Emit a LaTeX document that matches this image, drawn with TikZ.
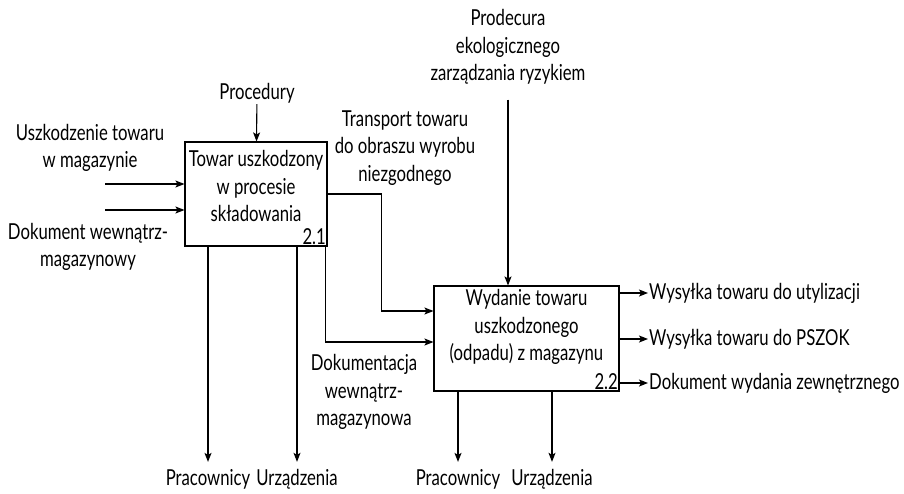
\documentclass[tikz,border=0pt]{standalone}
\usepackage{fontspec}
\setmainfont{Lato}[FakeStretch=0.76]
\usetikzlibrary{positioning,arrows.meta,calc}

\begin{document}
\begin{tikzpicture}[x=1pt, y=-1pt,
  proc/.style={rectangle, draw, line width=1.1pt},
  lbl/.style={font=\fontsize{22}{27.5}\selectfont, align=center, inner sep=1pt},
  num/.style={font=\fontsize{22}{24}\selectfont, inner sep=1.5pt},
  arr/.style={-{Stealth[length=9pt,width=7pt,inset=2pt]}, line width=1.1pt}
]
\useasboundingbox (0,0) rectangle (904,493);
% activity boxes
\node[proc, minimum width=142pt, minimum height=104pt] (b1) at (256,194) {};
\node[proc, minimum width=185pt, minimum height=105pt] (b2) at (526.5,338.5) {};
\node[lbl] (b1t) at (256,186) {Towar uszkodzony\\w procesie\\składowania};
\node[lbl] (b2t) at (526.5,327) {Wydanie towaru\\uszkodzonego\\(odpadu) z magazynu};
\node[num, anchor=south east] (n1) at (b1.south east) {2.1};
\node[num, anchor=south east] (n2) at (b2.south east) {2.2};
% inputs and controls
\node[lbl] (in1) at (90,148) {Uszkodzenie towaru\\w magazynie};
\node[lbl] (in2) at (88,247) {Dokument wewnątrz-\\magazynowy};
\coordinate (in1s) at (105,184);
\coordinate (in2s) at (105,210);
\node[lbl] (ctrl1) at (257,93) {Procedury};
\node[lbl] (ctrl2) at (508,47) {Prodecura\\ekologicznego\\zarządzania ryzykiem};
\node[lbl] (tr) at (405,148) {Transport towaru\\do obraszu wyrobu\\niezgodnego};
\node[lbl] (dok) at (364,392) {Dokumentacja\\wewnątrz-\\magazynowa};
% outputs
\node[lbl, anchor=west] (out1) at (648,293) {Wysyłka towaru do utylizacji};
\node[lbl, anchor=west] (out2) at (648,339) {Wysyłka towaru do PSZOK};
\node[lbl, anchor=west] (out3) at (648,383) {Dokument wydania zewnętrznego};
% mechanisms
\node[lbl] (m1) at (208,479) {Pracownicy};
\node[lbl] (m2) at (297,479) {Urządzenia};
\node[lbl] (m3) at (458,479) {Pracownicy};
\node[lbl] (m4) at (552,479) {Urządzenia};

\draw[arr] (in1s) -- (in1s -| b1.west);
\draw[arr] (in2s) -- (in2s -| b1.west);
\draw[arr] (ctrl1) -- (b1);
\draw[arr] ([yshift=-14pt]ctrl2.south) -- (ctrl2.south |- b2.north);
\draw[arr] (b1.east) -- ++(54,0) |- ([yshift=27.5pt]b2.west);
\draw[arr] ([xshift=-2pt]b1.south east) |- ([yshift=-3.5pt]b2.west);
\draw[arr] (out1.west -| b2.east) -- (out1.west);
\draw[arr] (out2.west -| b2.east) -- (out2.west);
\draw[arr] (out3.west -| b2.east) -- (out3.west);
\draw[arr] (m1 |- b1.south) -- ([yshift=6pt]m1.north);
\draw[arr] (m2 |- b1.south) -- ([yshift=6pt]m2.north);
\draw[arr] (m3 |- b2.south) -- ([yshift=6pt]m3.north);
\draw[arr] (m4 |- b2.south) -- ([yshift=6pt]m4.north);
\end{tikzpicture}
\end{document}
